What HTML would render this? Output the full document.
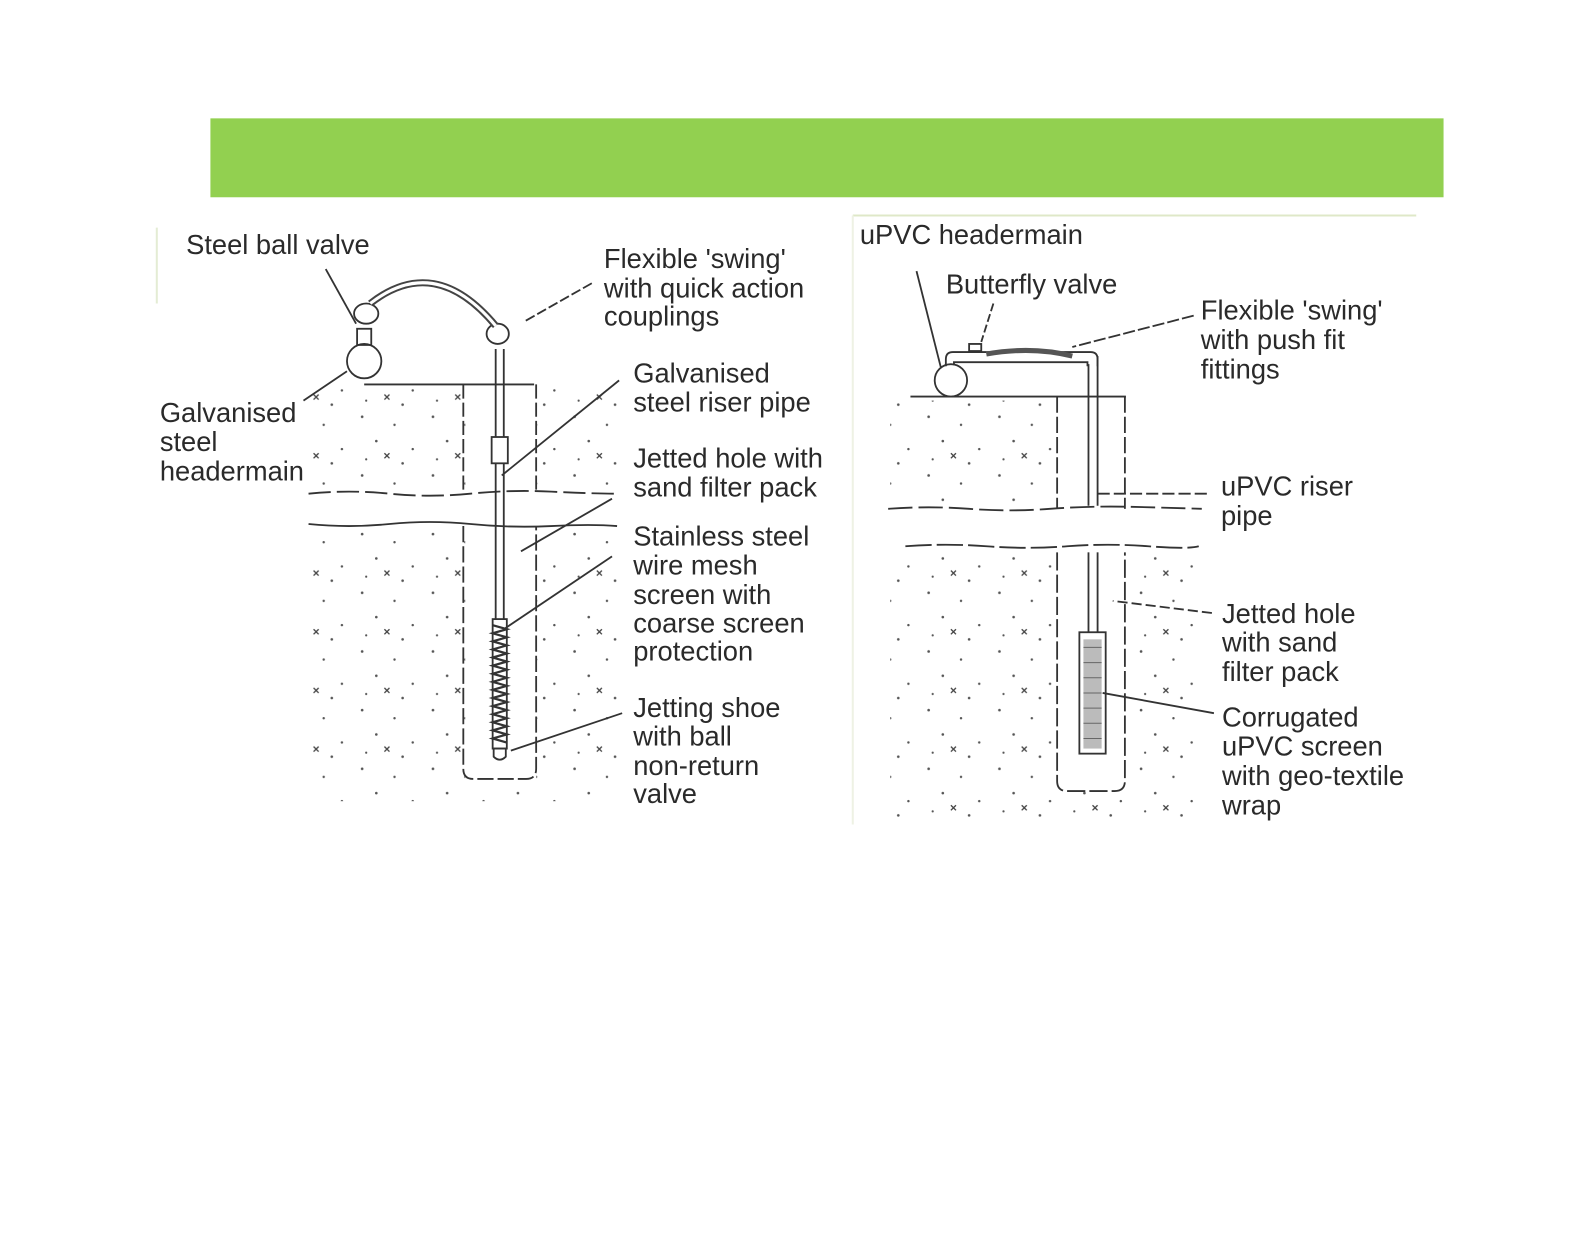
<!DOCTYPE html>
<html><head><meta charset="utf-8"><style>
html,body{margin:0;padding:0;background:#fff;}
body{width:1585px;height:1225px;position:relative;overflow:hidden;}
#wrap{position:absolute;left:0;top:0;width:1585px;height:1225px;transform:scale(1.0116);transform-origin:0 0;}
.bar{position:absolute;left:208px;top:117px;width:1219px;height:78px;background:#92d050;}
svg{position:absolute;left:0;top:0;}
text{font-family:"Liberation Sans",Arial,sans-serif;font-size:27px;fill:#2a2a2a;}
</style></head><body><div id="wrap">
<div class="bar"></div>
<svg width="1585" height="1225" viewBox="0 0 1585 1225">
<defs>
<pattern id="dots" width="70" height="58" patternUnits="userSpaceOnUse">
<g fill="#555">
<circle cx="8" cy="6" r="1.3"/><circle cx="40" cy="14" r="1.2"/><circle cx="22" cy="30" r="1.3"/>
<circle cx="58" cy="38" r="1.2"/><circle cx="12" cy="48" r="1.1"/><circle cx="48" cy="52" r="1.3"/>
</g>
<g stroke="#444" stroke-width="1.3"><path d="M30 42l5 5M35 42l-5 5"/></g>
</pattern>
</defs>

<!-- LEFT DIAGRAM -->
<line x1="155" y1="225" x2="155" y2="300" stroke="#e4ecd4" stroke-width="2"/>
<g>
<rect x="305" y="383" width="310" height="103" fill="url(#dots)"/>
<rect x="305" y="522" width="310" height="270" fill="url(#dots)"/>
<rect x="460" y="380" width="70" height="400" fill="#fff"/>
<rect x="460" y="520" width="70" height="255" fill="#fff"/>
</g>
<g stroke="#333" fill="none" stroke-width="1.8">
<line x1="360" y1="380" x2="528" y2="380"/>
<path d="M458 380 V488" stroke-dasharray="14 4"/>
<path d="M530 380 V488" stroke-dasharray="14 4"/>
<path d="M305 488 q40 -4 80 0 t80 0 t80 -2 t65 2" stroke-dasharray="22 6"/>
<path d="M305 518 q40 4 80 0 t80 0 t80 2 t65 0" />
<path d="M458 520 V760 q0 10 10 10 h52 q10 0 10 -10 V520" stroke-dasharray="16 4"/>
<line x1="490" y1="345" x2="490" y2="740"/>
<line x1="498" y1="345" x2="498" y2="740"/>
<rect x="486" y="432" width="16" height="26" fill="#fff"/>
<rect x="487" y="612" width="14" height="128" fill="#fff"/>
<path d="M487 618 l14 4 l-14 4 l14 4 l-14 4 l14 4 l-14 4 l14 4 l-14 4 l14 4 l-14 4 l14 4 l-14 4 l14 4 l-14 4 l14 4 l-14 4 l14 4 l-14 4 l14 4 l-14 4 l14 4 l-14 4 l14 4 l-14 4 l14 4 l-14 4 l14 4 l-14 4 l14 4" stroke-width="2.2"/>
<path d="M488 740 h12 v8 q-6 6 -12 0 z"/>
<circle cx="360" cy="357" r="17" fill="#fff"/>
<rect x="353" y="325" width="14" height="16"/>
<ellipse cx="362" cy="310" rx="12" ry="10" fill="#fff"/>
<ellipse cx="492" cy="330" rx="11" ry="10" fill="#fff"/>
<path d="M366 300 Q430 250 490 322" stroke-width="7" stroke="#444"/>
<path d="M366 300 Q430 250 490 322" stroke-width="3" stroke="#fff"/>
<line x1="322" y1="266" x2="352" y2="320"/>
<line x1="585" y1="280" x2="518" y2="318" stroke-dasharray="10 3"/>
<line x1="300" y1="396" x2="343" y2="367"/>
<line x1="612" y1="376" x2="496" y2="470"/>
<line x1="605" y1="493" x2="515" y2="545"/>
<line x1="605" y1="550" x2="498" y2="622"/>
<line x1="615" y1="705" x2="505" y2="742"/>
</g>
<text x="184" y="251">Steel ball valve</text>
<text x="597" y="265">Flexible 'swing'</text>
<text x="597" y="294">with quick action</text>
<text x="597" y="322">couplings</text>
<text x="158" y="417">Galvanised</text>
<text x="158" y="446">steel</text>
<text x="158" y="475">headermain</text>
<text x="626" y="378">Galvanised</text>
<text x="626" y="407">steel riser pipe</text>
<text x="626" y="462">Jetted hole with</text>
<text x="626" y="491">sand filter pack</text>
<text x="626" y="539">Stainless steel</text>
<text x="626" y="568">wire mesh</text>
<text x="626" y="597">screen with</text>
<text x="626" y="625">coarse screen</text>
<text x="626" y="653">protection</text>
<text x="626" y="709">Jetting shoe</text>
<text x="626" y="737">with ball</text>
<text x="626" y="766">non-return</text>
<text x="626" y="794">valve</text>

<!-- RIGHT DIAGRAM -->
<line x1="843" y1="213" x2="1400" y2="213" stroke="#dfe8c8" stroke-width="2"/>
<line x1="843" y1="213" x2="843" y2="815" stroke="#eef2e4" stroke-width="2"/>
<g>
<rect x="880" y="396" width="230" height="104" fill="url(#dots)"/>
<rect x="880" y="546" width="310" height="265" fill="url(#dots)"/>
<rect x="1046" y="394" width="64" height="106" fill="#fff"/>
<rect x="1046" y="546" width="64" height="232" fill="#fff"/>
</g>
<g stroke="#333" fill="none" stroke-width="1.8">
<line x1="900" y1="392" x2="1113" y2="392"/>
<path d="M1045 392 V503" stroke-dasharray="16 4"/>
<path d="M1112 392 V503" stroke-dasharray="16 4"/>
<path d="M878 503 q40 -3 80 0 t80 0 t80 -2 t70 2" stroke-dasharray="24 6"/>
<path d="M895 540 q40 -3 80 0 t80 0 t80 0 t50 0" stroke-dasharray="26 5"/>
<path d="M1045 546 V772 q0 10 10 10 h47 q10 0 10 -10 V546" stroke-dasharray="18 4"/>
<line x1="1076" y1="360" x2="1076" y2="500"/>
<line x1="1085" y1="352" x2="1085" y2="500"/>
<line x1="1076" y1="546" x2="1076" y2="625"/>
<line x1="1085" y1="546" x2="1085" y2="625"/>
<rect x="1067" y="625" width="26" height="120" fill="#fff"/>
<rect x="1071" y="632" width="18" height="108" fill="#bbb" stroke="none"/>
<path d="M1071 640 h18 M1071 655 h18 M1071 670 h18 M1071 685 h18 M1071 700 h18 M1071 715 h18 M1071 730 h18" stroke="#666" stroke-width="1"/>
<circle cx="940" cy="376" r="16" fill="#fff"/>
<path d="M935 362 V355 q0 -7 7 -7 H1078 q7 0 7 7 V362"/>
<path d="M943 361 V358 h132 V362"/>
<rect x="958" y="340" width="12" height="7" fill="#fff"/>
<path d="M975 350 Q1020 342 1060 352" stroke-width="5" stroke="#555"/>
<line x1="906" y1="268" x2="930" y2="363"/>
<line x1="982" y1="300" x2="970" y2="338" stroke-dasharray="8 3"/>
<line x1="1180" y1="312" x2="1060" y2="343" stroke-dasharray="12 3"/>
<line x1="1193" y1="488" x2="1085" y2="488" stroke-dasharray="12 4"/>
<line x1="1198" y1="606" x2="1100" y2="594" stroke-dasharray="10 4"/>
<line x1="1200" y1="705" x2="1090" y2="685"/>
</g>
<text x="850" y="241">uPVC headermain</text>
<text x="935" y="290">Butterfly valve</text>
<text x="1187" y="316">Flexible 'swing'</text>
<text x="1187" y="345">with push fit</text>
<text x="1187" y="374">fittings</text>
<text x="1207" y="490">uPVC riser</text>
<text x="1207" y="519">pipe</text>
<text x="1208" y="616">Jetted hole</text>
<text x="1208" y="644">with sand</text>
<text x="1208" y="673">filter pack</text>
<text x="1208" y="718">Corrugated</text>
<text x="1208" y="747">uPVC screen</text>
<text x="1208" y="776">with geo-textile</text>
<text x="1208" y="805">wrap</text>
</svg>
</div></body></html>
